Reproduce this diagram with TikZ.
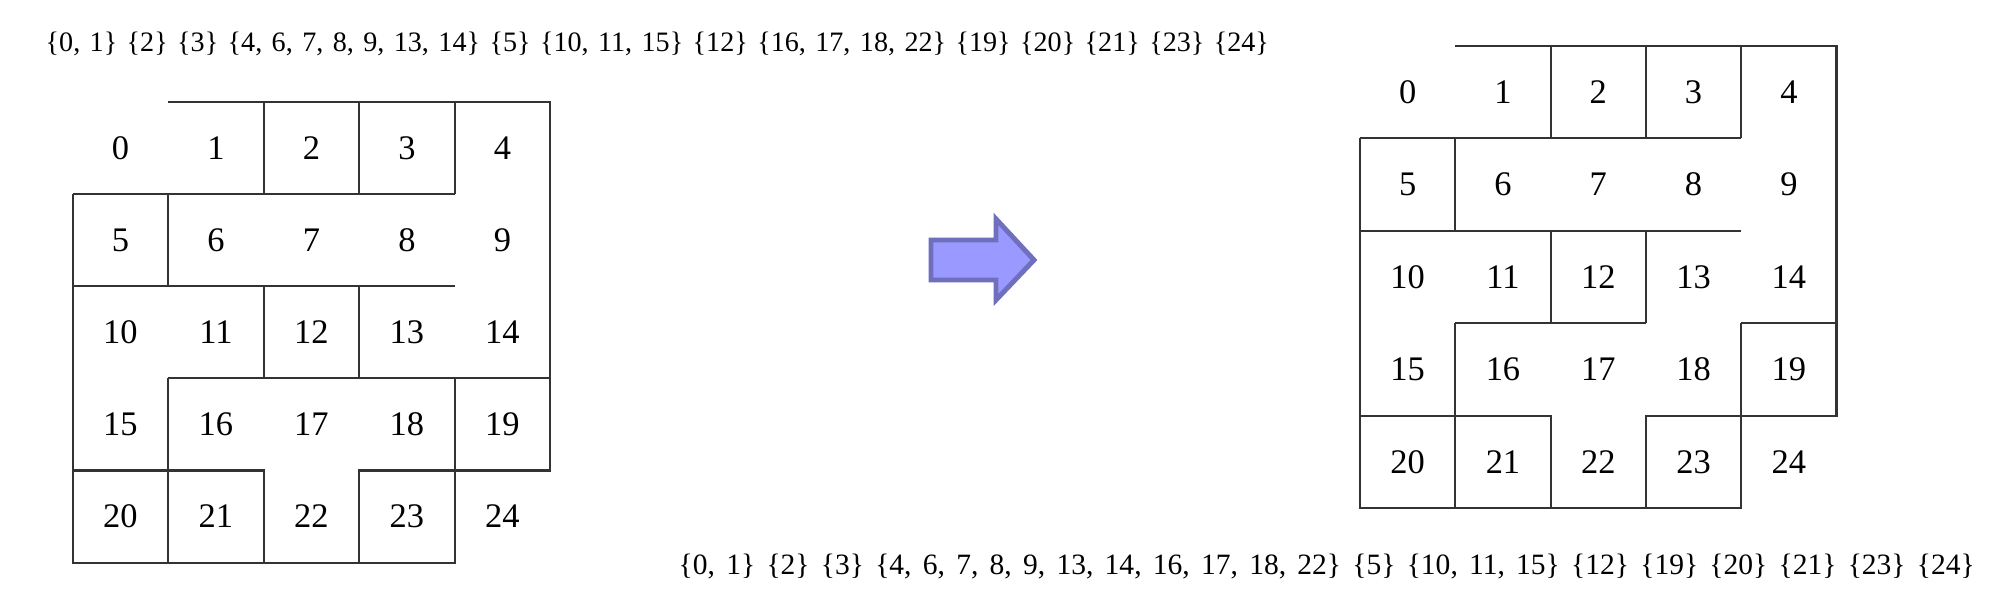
\documentclass[tikz,border=0pt]{standalone}
\usepackage{fontspec}
\setmainfont{Liberation Serif}
\definecolor{arrowfill}{RGB}{153,153,255}
\definecolor{arrowline}{RGB}{111,111,189}
\newcommand\widegaps[1]{\spaceskip=#1\relax}
\begin{document}
\begin{tikzpicture}[
  wall/.style={black!80,line width=0.6pt},
  cellnum/.style={font=\fontsize{9.8}{11}\selectfont,inner sep=0pt},
  regionlist/.style={font=\fontsize{8}{10}\selectfont,inner sep=0pt,anchor=base west}]
  \useasboundingbox (0,0) rectangle (19.90,6.07);
  % regions before merging
  \node [regionlist] (before) at (0.45,5.553) {\widegaps{0.336em}\{0, 1\} \{2\} \{3\} \{4, 6, 7, 8, 9, 13, 14\} \{5\} \{10, 11, 15\} \{12\} \{16, 17, 18, 22\} \{19\} \{20\} \{21\} \{23\} \{24\}};
  \begin{scope}[shift={(0.727,5.053)},x=0.955cm,y=-0.922cm]
    \draw [wall] (1,0) -- (5,0) -- (5,4) -- (3,4) -- (3,5);
    \draw [wall] (0,1) -- (4,1);
    \draw [wall] (0,2) -- (4,2);
    \draw [wall] (1,3) -- (5,3);
    \draw [wall] (0,4) -- (2,4) -- (2,5);
    \draw [wall] (0,1) -- (0,5) -- (4,5) -- (4,3);
    \draw [wall] (1,1) -- (1,2);
    \draw [wall] (1,3) -- (1,5);
    \draw [wall] (2,0) -- (2,1);
    \draw [wall] (3,0) -- (3,1);
    \draw [wall] (4,0) -- (4,1);
    \draw [wall] (2,2) -- (2,3);
    \draw [wall] (3,2) -- (3,3);
    \foreach \n in {0,...,24} {
      \pgfmathtruncatemacro{\row}{int(\n/5)}
      \pgfmathtruncatemacro{\col}{mod(\n,5)}
      \node [cellnum] (l\n) at (\col+0.5,\row+0.5) {\n};
    }
  \end{scope}
  % merge arrow
  \fill [arrowfill,draw=arrowline,line width=1.4pt,line join=miter]
    (9.31,3.27) -- (9.31,3.67) -- (9.96,3.67) -- (9.96,3.88) -- (10.34,3.47)
    -- (9.96,3.07) -- (9.96,3.27) -- cycle;
  % regions after merging
  \begin{scope}[shift={(13.60,5.613)},x=0.953cm,y=-0.925cm]
    \draw [wall] (1,0) -- (5,0) -- (5,4) -- (3,4) -- (3,5);
    \draw [wall] (0,1) -- (4,1);
    \draw [wall] (0,2) -- (4,2);
    \draw [wall] (1,3) -- (3,3);
    \draw [wall] (4,3) -- (5,3);
    \draw [wall] (0,4) -- (2,4) -- (2,5);
    \draw [wall] (0,1) -- (0,5) -- (4,5) -- (4,3);
    \draw [wall] (1,1) -- (1,2);
    \draw [wall] (1,3) -- (1,5);
    \draw [wall] (2,0) -- (2,1);
    \draw [wall] (3,0) -- (3,1);
    \draw [wall] (4,0) -- (4,1);
    \draw [wall] (2,2) -- (2,3);
    \draw [wall] (3,2) -- (3,3);
    \foreach \n in {0,...,24} {
      \pgfmathtruncatemacro{\row}{int(\n/5)}
      \pgfmathtruncatemacro{\col}{mod(\n,5)}
      \node [cellnum] (r\n) at (\col+0.5,\row+0.5) {\n};
    }
  \end{scope}
  \node [regionlist,font=\fontsize{8.4}{10}\selectfont] (after) at (6.78,0.327) {\widegaps{0.382em}\{0, 1\} \{2\} \{3\} \{4, 6, 7, 8, 9, 13, 14, 16, 17, 18, 22\} \{5\} \{10, 11, 15\} \{12\} \{19\} \{20\} \{21\} \{23\} \{24\}};
\end{tikzpicture}
\end{document}
